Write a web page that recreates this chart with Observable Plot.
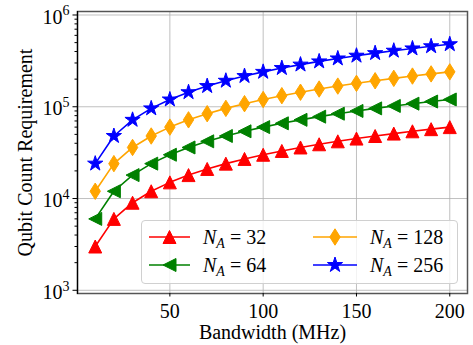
<!DOCTYPE html>
<html><head><meta charset="utf-8">
<script src="https://cdn.jsdelivr.net/npm/d3@7"></script>
<script src="https://cdn.jsdelivr.net/npm/@observablehq/plot@0.6"></script>
<style>
html,body{margin:0;padding:0;background:#fff;}
#wrap{position:relative;width:473px;height:345px;font-family:"Liberation Serif",serif;}
#legend{position:absolute;left:141px;top:220px;width:317px;height:64px;box-sizing:border-box;border:1px solid #d0d0d0;border-radius:4px;background:rgba(255,255,255,0.8);}
#legend svg{position:absolute;left:-1px;top:-1px;overflow:visible;}
</style></head><body><div id="wrap"></div>
<script>
// ---- data ----
const bandwidth = [10,20,30,40,50,60,70,80,90,100,110,120,130,140,150,160,170,180,190,200];
const na32  = [3000,6000,9000,12000,15000,18000,21000,24000,27000,30000,33000,36000,39000,42000,45000,48000,51000,54000,57000,60000];
const na64  = [6000,12000,18000,24000,30000,36000,42000,48000,54000,60000,66000,72000,78000,84000,90000,96000,102000,108000,114000,120000];
const na128 = [12000,24000,36000,48000,60000,72000,84000,96000,108000,120000,132000,144000,156000,168000,180000,192000,204000,216000,228000,240000];
const na256 = [24000,48000,72000,96000,120000,144000,168000,192000,216000,240000,264000,288000,312000,336000,360000,384000,408000,432000,456000,480000];
const seriesNames = ["32","64","128","256"];
const seriesColors = ["#ff0000","#008000","#ffa500","#0000ff"];
const xTicks = [50,100,150,200];
const yDecades = [1e3,1e4,1e5,1e6];
const xLabel = "Bandwidth (MHz)";
const yLabel = "Qubit Count Requirement";

// ---- symbols ----
const triUp = h => ({draw(c){c.moveTo(0,-h);c.lineTo(h,h);c.lineTo(-h,h);c.closePath();}});
const triLeft = h => ({draw(c){c.moveTo(-h,0);c.lineTo(h,-h);c.lineTo(h,h);c.closePath();}});
const thinDiamond = (w,h) => ({draw(c){c.moveTo(0,-h);c.lineTo(w,0);c.lineTo(0,h);c.lineTo(-w,0);c.closePath();}});
const star = R => ({draw(c){const r=R*0.381966;for(let i=0;i<10;i++){const a=Math.PI*i/5-Math.PI/2;const rad=i%2?r:R;const x=rad*Math.cos(a),y=rad*Math.sin(a);i?c.lineTo(x,y):c.moveTo(x,y);}c.closePath();}});
const symbols = [triUp(6.5), triLeft(6.5), thinDiamond(5.2,8.2), star(8)];

const allValues = [na32, na64, na128, na256];
const data = allValues.map((vals, s) => bandwidth.map((b, i) => ({x: b, y: vals[i], s})));

const minor = [];
for (let d = 3; d < 6; d++) for (let k = 2; k <= 9; k++) minor.push(k * 10 ** d);

const FONT = "Liberation Serif";
const marks = [
  Plot.gridX(xTicks, {stroke: "#b0b0b0", strokeOpacity: 1, strokeWidth: 0.8}),
  Plot.gridY(yDecades, {stroke: "#b0b0b0", strokeOpacity: 1, strokeWidth: 0.8}),
];
data.forEach((d, s) => {
  marks.push(Plot.line(d, {x: "x", y: "y", stroke: seriesColors[s], strokeWidth: 1.6}));
  marks.push(Plot.dot(d, {x: "x", y: "y", symbol: symbols[s], r: 5, fill: seriesColors[s], stroke: seriesColors[s], strokeWidth: 1}));
});
marks.push(
  Plot.frame({stroke: "#555", strokeWidth: 1.5}),
  Plot.frame({anchor: "left", stroke: "#000", strokeWidth: 1.2}),
  Plot.axisX({ticks: xTicks, tickSize: 3.5, tickPadding: 6.5, tickFormat: d => String(d), fontSize: 20, fontFamily: FONT, label: null, stroke: "#000"}),
  Plot.axisY({ticks: yDecades, tickSize: 4.5, tickFormat: () => "", label: null, stroke: "#000"}),
  Plot.axisY({ticks: minor, tickSize: 2.5, tickFormat: () => "", label: null, stroke: "#000"}),
  Plot.text(yDecades, {y: d => d, text: () => "10", frameAnchor: "left", textAnchor: "end", lineAnchor: "middle", dx: -15, dy: 2.3, fontSize: 20, fontFamily: FONT, fill: "#000"}),
  Plot.text(yDecades, {y: d => d, text: d => String(Math.round(Math.log10(d))), frameAnchor: "left", textAnchor: "start", lineAnchor: "middle", dx: -15, dy: -4, fontSize: 14, fontFamily: FONT, fill: "#000"}),
  Plot.text([xLabel], {text: d => d, frameAnchor: "bottom", textAnchor: "middle", lineAnchor: "middle", dy: 39, fontSize: 20, fontFamily: FONT, fill: "#000"}),
  Plot.text([yLabel], {text: d => d, frameAnchor: "left", textAnchor: "middle", lineAnchor: "middle", rotate: -90, dx: -52, fontSize: 20, fontFamily: FONT, fill: "#000"})
);

const chart = Plot.plot({
  width: 473, height: 345,
  marginLeft: 77, marginRight: 6, marginTop: 11, marginBottom: 52,
  x: {domain: [0.5, 209.5]},
  y: {type: "log", domain: [10 ** 2.965, 10 ** 6.038]},
  style: {fontFamily: FONT, background: "#fff", color: "#000", overflow: "visible"},
  marks
});
const wrap = document.getElementById("wrap");
wrap.appendChild(chart);

// ---- legend (inside plot area, as in reference) ----
const leg = document.createElement("div");
leg.id = "legend";
wrap.appendChild(leg);
const lsvg = d3.select(leg).append("svg").attr("width", 317).attr("height", 64);
const items = [
  {s: 0, col: 0, row: 0}, {s: 1, col: 0, row: 1}, {s: 2, col: 1, row: 0}, {s: 3, col: 1, row: 1}
];
const colX = [{l0: 8, l1: 49, t: 62}, {l0: 172, l1: 216, t: 229}];
const rowY = [17, 45];
items.forEach(it => {
  const cx = colX[it.col], y = rowY[it.row];
  const g = lsvg.append("g");
  g.append("line").attr("x1", cx.l0).attr("x2", cx.l1).attr("y1", y).attr("y2", y)
    .attr("stroke", seriesColors[it.s]).attr("stroke-width", 1.6);
  const p = d3.path();
  symbols[it.s].draw(p);
  g.append("path").attr("d", p.toString()).attr("transform", `translate(${(cx.l0 + cx.l1) / 2},${y})`)
    .attr("fill", seriesColors[it.s]).attr("stroke", seriesColors[it.s]).attr("stroke-width", 1);
  const t = g.append("text").attr("x", cx.t).attr("y", y).attr("dy", "0.35em")
    .attr("font-family", FONT).attr("font-size", 20).attr("fill", "#000");
  t.append("tspan").attr("font-style", "italic").text("N");
  t.append("tspan").attr("font-style", "italic").attr("font-size", 14).attr("dy", 4).text("A");
  t.append("tspan").attr("dy", -4).attr("dx", 5).text("=");
  t.append("tspan").attr("dx", 5).text(seriesNames[it.s]);
});
</script></body></html>
